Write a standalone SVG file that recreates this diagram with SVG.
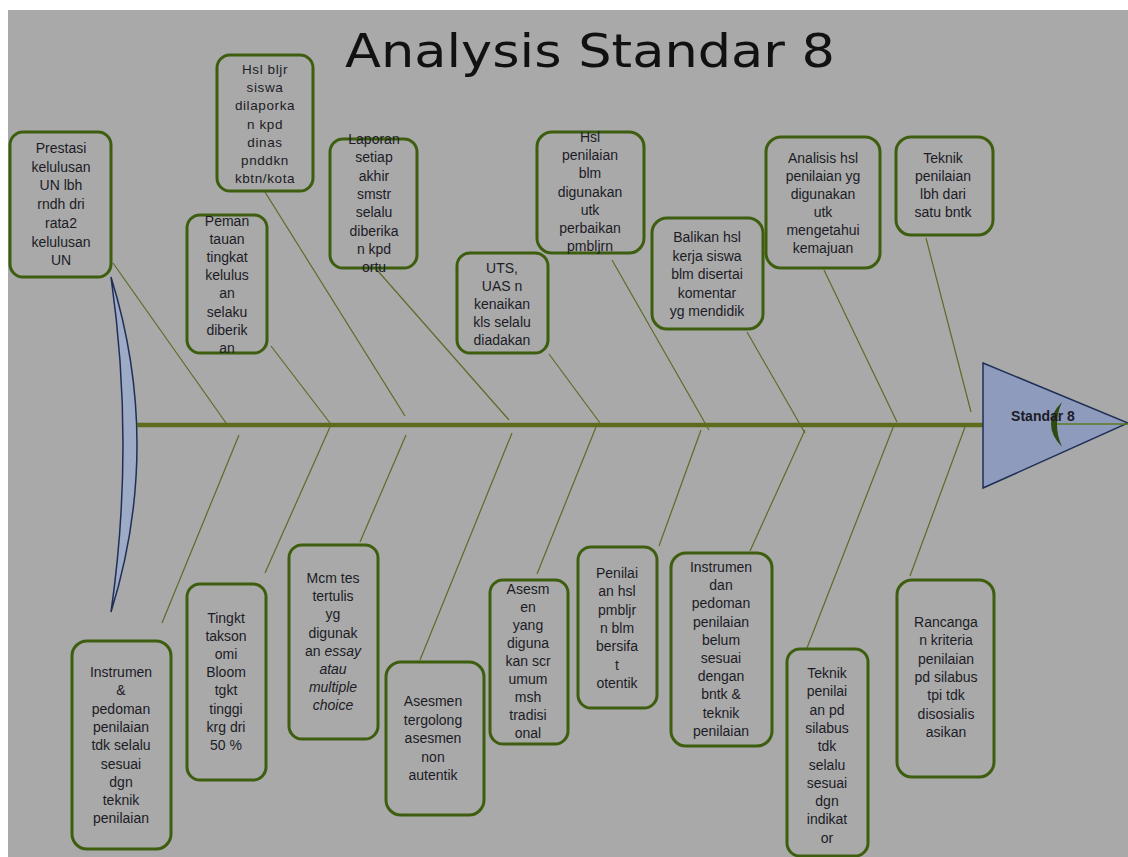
<svg xmlns="http://www.w3.org/2000/svg" width="1128" height="857" viewBox="0 0 1128 857">
<style>
.box{fill:none;stroke:#3d5e0e;stroke-width:3}
.t{font-family:"Liberation Sans",Arial,sans-serif;font-size:14px;fill:#1c1c26;text-anchor:middle}
.s{font-size:13.5px;letter-spacing:0.6px}
.con{stroke:#5a6d26;stroke-width:1.2;fill:none}
</style>
<rect x="0" y="0" width="1128" height="857" fill="#ffffff"/>
<rect x="8" y="10" width="1120" height="847" fill="#a9a9a9"/>
<text x="590" y="67" font-family="'DejaVu Sans',sans-serif" font-size="46" fill="#111" text-anchor="middle" textLength="490" lengthAdjust="spacingAndGlyphs">Analysis Standar 8</text>

<g id="tail"><path d="M111,277 Q163,445 111,612 Q135,445 111,277 Z" fill="#9eabc6" stroke="#1f2f55" stroke-width="1.5"/></g>

<g id="connectors">
<line x1="137" y1="425" x2="983" y2="425" stroke="#5c6b1c" stroke-width="4.5"/>
<line class="con" x1="113" y1="263" x2="226" y2="423"/>
<line class="con" x1="271" y1="346" x2="330" y2="423"/>
<line class="con" x1="265" y1="192" x2="405" y2="416"/>
<line class="con" x1="377" y1="270" x2="509" y2="420"/>
<line class="con" x1="549" y1="354" x2="600" y2="423"/>
<line class="con" x1="612" y1="260" x2="709" y2="430"/>
<line class="con" x1="747" y1="332" x2="805" y2="433"/>
<line class="con" x1="824" y1="270" x2="897" y2="422"/>
<line class="con" x1="926" y1="238" x2="971" y2="412"/>
<line class="con" x1="239" y1="435" x2="162" y2="623"/>
<line class="con" x1="330" y1="427" x2="265" y2="573"/>
<line class="con" x1="406" y1="435" x2="360" y2="542"/>
<line class="con" x1="512" y1="433" x2="420" y2="660"/>
<line class="con" x1="596" y1="427" x2="537" y2="574"/>
<line class="con" x1="701" y1="430" x2="659" y2="546"/>
<line class="con" x1="805" y1="430" x2="750" y2="551"/>
<line class="con" x1="894" y1="425" x2="807" y2="648"/>
<line class="con" x1="965" y1="427" x2="910" y2="576"/>
</g>

<g id="head">
<path d="M983,363 L1128,423 L983,488 Z" fill="#8e9bbd" stroke="#1f2f55" stroke-width="1.5"/>
<line x1="1056" y1="424" x2="1128" y2="424" stroke="#5c7a1e" stroke-width="1.5"/>
<path d="M1062,402 Q1040,424 1062,447 Q1052,424 1062,402 Z" fill="#2f4a10"/>
<text x="1043" y="421" class="t" font-weight="bold" font-size="13">Standar 8</text>
</g>

<g id="b1"><rect class="box" x="10" y="132" width="101" height="145" rx="13"/>
<text class="t"><tspan x="61" y="153">Prestasi</tspan><tspan x="61" dy="18.7">kelulusan</tspan><tspan x="61" dy="18.7">UN lbh</tspan><tspan x="61" dy="18.7">rndh dri</tspan><tspan x="61" dy="18.7">rata2</tspan><tspan x="61" dy="18.7">kelulusan</tspan><tspan x="61" dy="18.7">UN</tspan></text></g>

<g id="b2"><rect class="box" x="217" y="55" width="96" height="136" rx="13"/>
<text class="t s"><tspan x="265" y="74">Hsl bljr</tspan><tspan x="265" dy="18.2">siswa</tspan><tspan x="265" dy="18.2">dilaporka</tspan><tspan x="265" dy="18.2">n kpd</tspan><tspan x="265" dy="18.2">dinas</tspan><tspan x="265" dy="18.2">pnddkn</tspan><tspan x="265" dy="18.2">kbtn/kota</tspan></text></g>

<g id="b3"><rect class="box" x="330" y="139" width="87" height="129" rx="13"/>
<text class="t"><tspan x="374" y="144">Laporan</tspan><tspan x="374" dy="18.3">setiap</tspan><tspan x="374" dy="18.3">akhir</tspan><tspan x="374" dy="18.3">smstr</tspan><tspan x="374" dy="18.3">selalu</tspan><tspan x="374" dy="18.3">diberika</tspan><tspan x="374" dy="18.3">n kpd</tspan><tspan x="374" dy="18.3">ortu</tspan></text></g>

<g id="b4"><rect class="box" x="187" y="215" width="80" height="138" rx="13"/>
<text class="t"><tspan x="227" y="226">Peman</tspan><tspan x="227" dy="18.1">tauan</tspan><tspan x="227" dy="18.1">tingkat</tspan><tspan x="227" dy="18.1">kelulus</tspan><tspan x="227" dy="18.1">an</tspan><tspan x="227" dy="18.1">selaku</tspan><tspan x="227" dy="18.1">diberik</tspan><tspan x="227" dy="18.1">an</tspan></text></g>

<g id="b5"><rect class="box" x="457" y="253" width="91" height="100" rx="13"/>
<text class="t"><tspan x="502" y="273">UTS,</tspan><tspan x="502" dy="18">UAS n</tspan><tspan x="502" dy="18">kenaikan</tspan><tspan x="502" dy="18">kls selalu</tspan><tspan x="502" dy="18">diadakan</tspan></text></g>

<g id="b6"><rect class="box" x="537" y="132" width="107" height="121" rx="15"/>
<text class="t"><tspan x="590" y="142">Hsl</tspan><tspan x="590" dy="18.2">penilaian</tspan><tspan x="590" dy="18.2">blm</tspan><tspan x="590" dy="18.2">digunakan</tspan><tspan x="590" dy="18.2">utk</tspan><tspan x="590" dy="18.2">perbaikan</tspan><tspan x="590" dy="18.2">pmbljrn</tspan></text></g>

<g id="b7"><rect class="box" x="652" y="218" width="111" height="111" rx="15"/>
<text class="t"><tspan x="707" y="242">Balikan hsl</tspan><tspan x="707" dy="18.5">kerja siswa</tspan><tspan x="707" dy="18.5">blm disertai</tspan><tspan x="707" dy="18.5">komentar</tspan><tspan x="707" dy="18.5">yg mendidik</tspan></text></g>

<g id="b8"><rect class="box" x="766" y="137" width="114" height="131" rx="15"/>
<text class="t"><tspan x="823" y="163">Analisis hsl</tspan><tspan x="823" dy="18">penilaian yg</tspan><tspan x="823" dy="18">digunakan</tspan><tspan x="823" dy="18">utk</tspan><tspan x="823" dy="18">mengetahui</tspan><tspan x="823" dy="18">kemajuan</tspan></text></g>

<g id="b9"><rect class="box" x="896" y="137" width="97" height="98" rx="15"/>
<text class="t"><tspan x="943" y="163">Teknik</tspan><tspan x="943" dy="18">penilaian</tspan><tspan x="943" dy="18">lbh dari</tspan><tspan x="943" dy="18">satu bntk</tspan></text></g>

<g id="c1"><rect class="box" x="72" y="641" width="99" height="208" rx="15"/>
<text class="t"><tspan x="121" y="677">Instrumen</tspan><tspan x="121" dy="18.3">&amp;</tspan><tspan x="121" dy="18.3">pedoman</tspan><tspan x="121" dy="18.3">penilaian</tspan><tspan x="121" dy="18.3">tdk selalu</tspan><tspan x="121" dy="18.3">sesuai</tspan><tspan x="121" dy="18.3">dgn</tspan><tspan x="121" dy="18.3">teknik</tspan><tspan x="121" dy="18.3">penilaian</tspan></text></g>

<g id="c2"><rect class="box" x="187" y="584" width="79" height="196" rx="13"/>
<text class="t"><tspan x="226" y="623">Tingkt</tspan><tspan x="226" dy="18.1">takson</tspan><tspan x="226" dy="18.1">omi</tspan><tspan x="226" dy="18.1">Bloom</tspan><tspan x="226" dy="18.1">tgkt</tspan><tspan x="226" dy="18.1">tinggi</tspan><tspan x="226" dy="18.1">krg dri</tspan><tspan x="226" dy="18.1">50 %</tspan></text></g>

<g id="c3"><rect class="box" x="289" y="545" width="89" height="194" rx="13"/>
<text class="t"><tspan x="333" y="583">Mcm tes</tspan><tspan x="333" dy="18.2">tertulis</tspan><tspan x="333" dy="18.2">yg</tspan><tspan x="333" dy="18.2">digunak</tspan><tspan x="333" dy="18.2">an <tspan font-style="italic">essay</tspan></tspan><tspan x="333" dy="18.2" font-style="italic">atau</tspan><tspan x="333" dy="18.2" font-style="italic">multiple</tspan><tspan x="333" dy="18.2" font-style="italic">choice</tspan></text></g>

<g id="c4"><rect class="box" x="386" y="662" width="98" height="153" rx="15"/>
<text class="t"><tspan x="433" y="706">Asesmen</tspan><tspan x="433" dy="18.5">tergolong</tspan><tspan x="433" dy="18.5">asesmen</tspan><tspan x="433" dy="18.5">non</tspan><tspan x="433" dy="18.5">autentik</tspan></text></g>

<g id="c5"><rect class="box" x="490" y="580" width="78" height="164" rx="13"/>
<text class="t"><tspan x="528" y="594">Asesm</tspan><tspan x="528" dy="18">en</tspan><tspan x="528" dy="18">yang</tspan><tspan x="528" dy="18">diguna</tspan><tspan x="528" dy="18">kan scr</tspan><tspan x="528" dy="18">umum</tspan><tspan x="528" dy="18">msh</tspan><tspan x="528" dy="18">tradisi</tspan><tspan x="528" dy="18">onal</tspan></text></g>

<g id="c6"><rect class="box" x="578" y="547" width="79" height="161" rx="13"/>
<text class="t"><tspan x="617" y="578">Penilai</tspan><tspan x="617" dy="18.3">an hsl</tspan><tspan x="617" dy="18.3">pmbljr</tspan><tspan x="617" dy="18.3">n  blm</tspan><tspan x="617" dy="18.3">bersifa</tspan><tspan x="617" dy="18.3">t</tspan><tspan x="617" dy="18.3">otentik</tspan></text></g>

<g id="c7"><rect class="box" x="671" y="553" width="101" height="193" rx="15"/>
<text class="t"><tspan x="721" y="572">Instrumen</tspan><tspan x="721" dy="18.2">dan</tspan><tspan x="721" dy="18.2">pedoman</tspan><tspan x="721" dy="18.2">penilaian</tspan><tspan x="721" dy="18.2">belum</tspan><tspan x="721" dy="18.2">sesuai</tspan><tspan x="721" dy="18.2">dengan</tspan><tspan x="721" dy="18.2">bntk &amp;</tspan><tspan x="721" dy="18.2">teknik</tspan><tspan x="721" dy="18.2">penilaian</tspan></text></g>

<g id="c8"><rect class="box" x="787" y="649" width="81" height="207" rx="13"/>
<text class="t"><tspan x="827" y="678">Teknik</tspan><tspan x="827" dy="18.3">penilai</tspan><tspan x="827" dy="18.3">an  pd</tspan><tspan x="827" dy="18.3">silabus</tspan><tspan x="827" dy="18.3">tdk</tspan><tspan x="827" dy="18.3">selalu</tspan><tspan x="827" dy="18.3">sesuai</tspan><tspan x="827" dy="18.3">dgn</tspan><tspan x="827" dy="18.3">indikat</tspan><tspan x="827" dy="18.3">or</tspan></text></g>

<g id="c9"><rect class="box" x="897" y="580" width="97" height="197" rx="15"/>
<text class="t"><tspan x="946" y="627">Rancanga</tspan><tspan x="946" dy="18.3">n kriteria</tspan><tspan x="946" dy="18.3">penilaian</tspan><tspan x="946" dy="18.3">pd silabus</tspan><tspan x="946" dy="18.3">tpi tdk</tspan><tspan x="946" dy="18.3">disosialis</tspan><tspan x="946" dy="18.3">asikan</tspan></text></g>
</svg>
